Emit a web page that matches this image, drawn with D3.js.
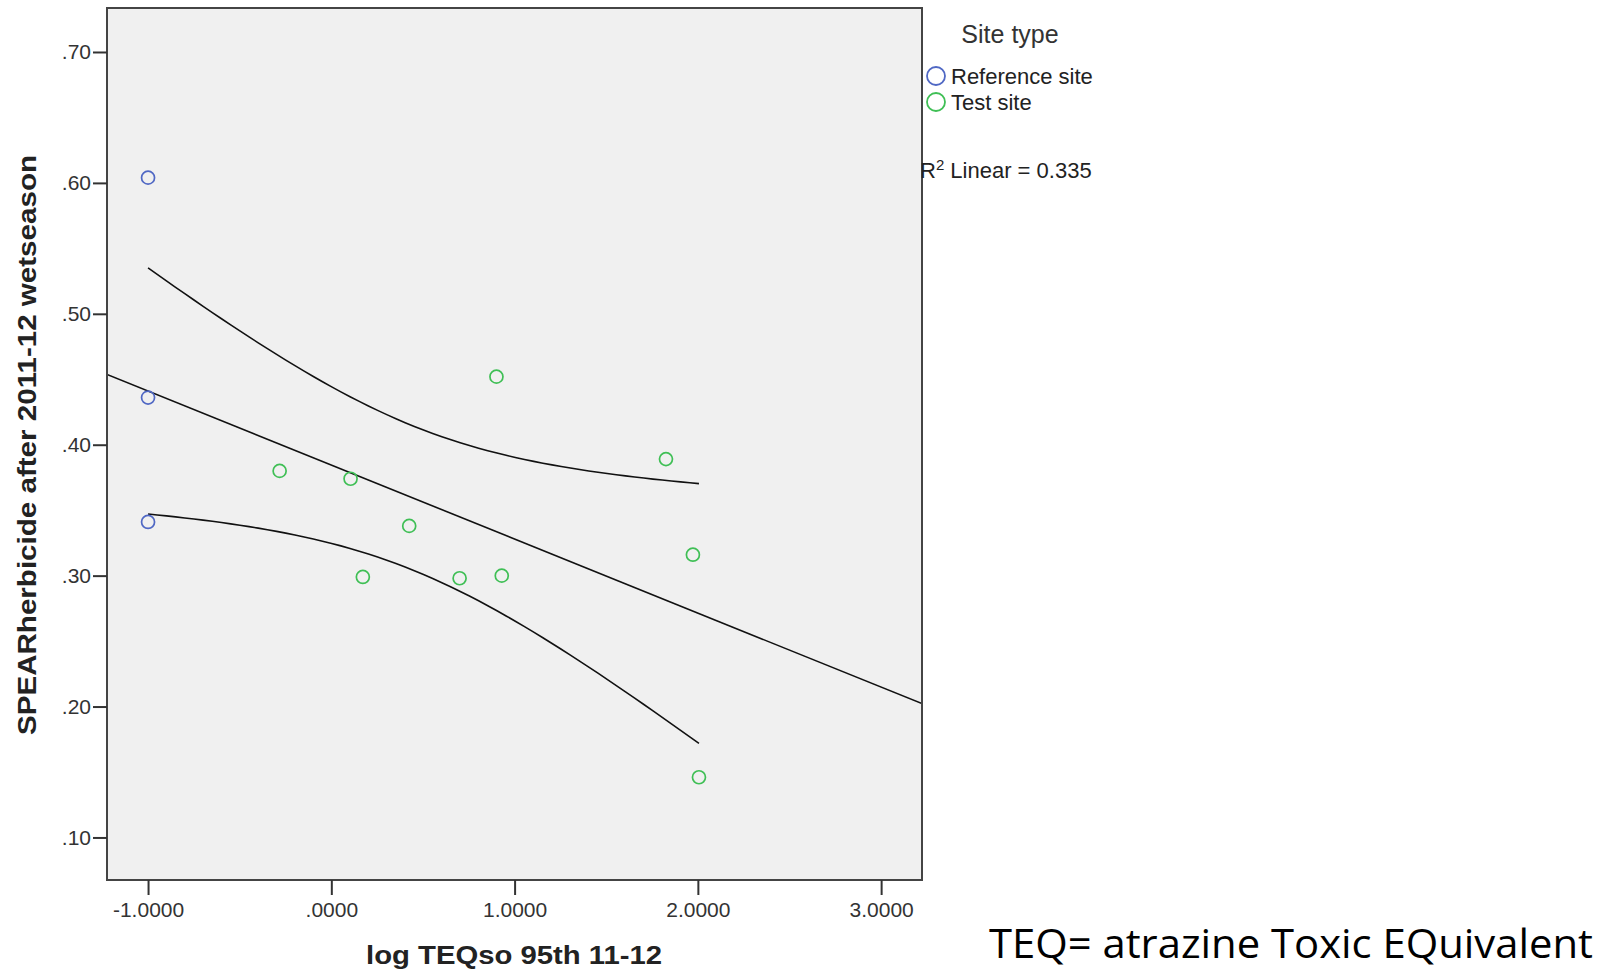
<!DOCTYPE html>
<html>
<head>
<meta charset="utf-8">
<script src="https://cdn.jsdelivr.net/npm/d3@7"></script>
<style>
  body { margin: 0; background: #fff; }
  text { font-family: "Liberation Sans", Arial, sans-serif; }
</style>
</head>
<body>
<div id="chart"></div>
<script>
// values
const referenceX = [-1.0, -1.0, -1.0];
const referenceY = [0.604, 0.436, 0.341];
const testX = [-0.282, 0.105, 0.172, 0.425, 0.700, 0.901, 0.930, 1.826, 1.973, 2.006];
const testY = [0.380, 0.374, 0.299, 0.338, 0.298, 0.452, 0.300, 0.389, 0.316, 0.146];
const xTicks = [-1, 0, 1, 2, 3];
const yTicks = [0.10, 0.20, 0.30, 0.40, 0.50, 0.60, 0.70];
const siteTypes = ["Reference site", "Test site"];
const siteColors = ["#5068c4", "#3fbf55"];
const r2Linear = 0.335; // as printed on the chart
const tCrit = 2.201; // t(0.975, df = 11)

(function () {
  const margin = { top: 8, right: 690, bottom: 92, left: 107 };
  const width = 1612 - margin.left - margin.right;
  const height = 972 - margin.top - margin.bottom;

  const root = d3.select("#chart")
    .append("svg")
    .attr("width", 1612)
    .attr("height", 972);

  const svg = root.append("g")
    .attr("transform", "translate(" + margin.left + "," + margin.top + ")");

  const xPositionScale = d3.scaleLinear().domain([-1.224, 3.223]).range([0, width]);
  const yPositionScale = d3.scaleLinear().domain([0.0675, 0.7336]).range([height, 0]);

  const points = referenceX.map((x, i) => ({ x: x, y: referenceY[i], type: 0 }))
    .concat(testX.map((x, i) => ({ x: x, y: testY[i], type: 1 })));

  // least squares fit + 95% confidence band of the mean
  const n = points.length;
  const mx = d3.mean(points, d => d.x);
  const my = d3.mean(points, d => d.y);
  const sxx = d3.sum(points, d => (d.x - mx) * (d.x - mx));
  const sxy = d3.sum(points, d => (d.x - mx) * (d.y - my));
  const syy = d3.sum(points, d => (d.y - my) * (d.y - my));
  const slope = sxy / sxx;
  const intercept = my - slope * mx;
  const s = Math.sqrt((syy - slope * sxy) / (n - 2));
  const fit = x => intercept + slope * x;
  const half = x => tCrit * s * Math.sqrt(1 / n + (x - mx) * (x - mx) / sxx);

  svg.append("rect")
    .attr("width", width)
    .attr("height", height)
    .attr("fill", "#f0f0f0");

  const plot = svg.append("g");
  plot.append("clipPath").attr("id", "clip")
    .append("rect").attr("width", width).attr("height", height);

  const line = d3.line()
    .x(d => xPositionScale(d.x))
    .y(d => yPositionScale(d.y));

  const xMin = d3.min(points, d => d.x);
  const xMax = d3.max(points, d => d.x);
  const bandXs = d3.range(0, 61).map(i => xMin + (xMax - xMin) * i / 60);

  plot.append("path")
    .datum(xPositionScale.domain().map(x => ({ x: x, y: fit(x) })))
    .attr("d", line)
    .attr("clip-path", "url(#clip)")
    .attr("fill", "none")
    .attr("stroke", "#111")
    .attr("stroke-width", 1.6);

  [1, -1].forEach(sign => {
    plot.append("path")
      .datum(bandXs.map(x => ({ x: x, y: fit(x) + sign * half(x) })))
      .attr("d", line)
      .attr("fill", "none")
      .attr("stroke", "#111")
      .attr("stroke-width", 1.6);
  });

  plot.selectAll(".dot")
    .data(points)
    .enter().append("circle")
    .attr("class", "dot")
    .attr("cx", d => xPositionScale(d.x))
    .attr("cy", d => yPositionScale(d.y))
    .attr("r", 6.5)
    .attr("fill", "none")
    .attr("stroke", d => siteColors[d.type])
    .attr("stroke-width", 1.7);

  // frame
  svg.append("rect")
    .attr("width", width)
    .attr("height", height)
    .attr("fill", "none")
    .attr("stroke", "#444")
    .attr("stroke-width", 2);

  // SPSS style: no leading zero, plain hyphen for minus
  const spss = str => str.replace("\u2212", "-").replace(/^(-?)0\./, "$1.");

  const yAxis = d3.axisLeft(yPositionScale)
    .tickValues(yTicks)
    .tickSize(14)
    .tickPadding(2)
    .tickFormat(d => spss(d3.format(".2f")(d)));

  const xAxis = d3.axisBottom(xPositionScale)
    .tickValues(xTicks)
    .tickSize(15)
    .tickPadding(7)
    .tickFormat(d => spss(d3.format(".4f")(d)));

  svg.append("g").call(yAxis);
  svg.append("g").attr("transform", "translate(0," + height + ")").call(xAxis);

  svg.selectAll(".domain").remove();
  svg.selectAll(".tick line").attr("stroke", "#333").attr("stroke-width", 2);
  svg.selectAll(".tick text")
    .attr("font-size", "21px")
    .attr("fill", "#333")
    .style("font-family", "'Liberation Sans', Arial, sans-serif");

  // axis titles
  root.append("text")
    .attr("x", 514)
    .attr("y", 964)
    .attr("text-anchor", "middle")
    .attr("font-size", "26px")
    .attr("font-weight", "bold")
    .attr("fill", "#222")
    .attr("textLength", 296)
    .attr("lengthAdjust", "spacingAndGlyphs")
    .text("log TEQso 95th 11-12");

  root.append("text")
    .attr("transform", "translate(36,445) rotate(-90)")
    .attr("text-anchor", "middle")
    .attr("font-size", "26px")
    .attr("font-weight", "bold")
    .attr("fill", "#222")
    .attr("textLength", 580)
    .attr("lengthAdjust", "spacingAndGlyphs")
    .text("SPEARherbicide after 2011-12 wetseason");

  // legend
  const legend = root.append("g");
  legend.append("text")
    .attr("x", 1010)
    .attr("y", 43)
    .attr("text-anchor", "middle")
    .attr("font-size", "25px")
    .attr("fill", "#333")
    .text("Site type");

  siteTypes.forEach((name, i) => {
    const cy = 76 + i * 26;
    legend.append("circle")
      .attr("cx", 936)
      .attr("cy", cy)
      .attr("r", 9)
      .attr("fill", "none")
      .attr("stroke", siteColors[i])
      .attr("stroke-width", 1.8);
    legend.append("text")
      .attr("x", 951)
      .attr("y", cy + 8)
      .attr("font-size", "22px")
      .attr("fill", "#222")
      .text(name);
  });

  const r2Text = legend.append("text")
    .attr("x", 920)
    .attr("y", 178)
    .attr("font-size", "22px")
    .attr("fill", "#222");
  r2Text.append("tspan").text("R");
  r2Text.append("tspan").attr("dy", -8).attr("font-size", "15px").text("2");
  r2Text.append("tspan").attr("dy", 8).text(" Linear = " + d3.format(".3f")(r2Linear));

  root.append("text")
    .attr("x", 989)
    .attr("y", 958)
    .attr("font-size", "41px")
    .attr("fill", "#000")
    .style("font-family", "'Open Sans', 'Noto Sans', sans-serif")
    .attr("textLength", 604)
    .attr("lengthAdjust", "spacingAndGlyphs")
    .text("TEQ= atrazine Toxic EQuivalent");
})();
</script>
</body>
</html>
